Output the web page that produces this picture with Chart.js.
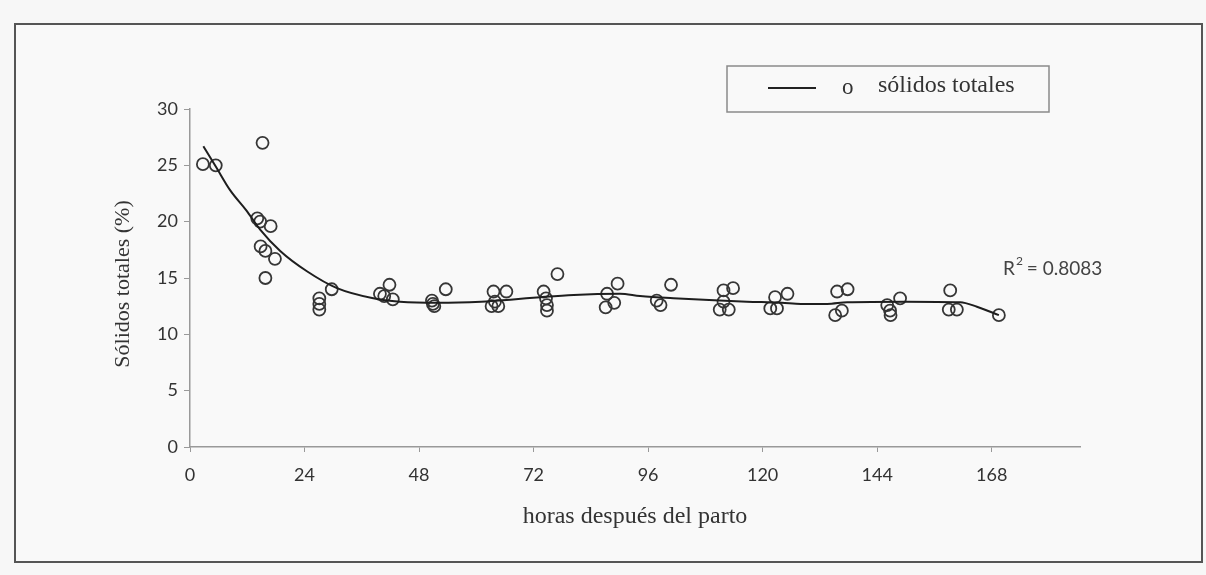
<!DOCTYPE html>
<html>
<head>
<meta charset="utf-8">
<script src="https://cdn.jsdelivr.net/npm/chart.js@4/dist/chart.umd.min.js"></script>
<style>
  html, body { margin: 0; padding: 0; background: #f7f7f7; }
  #wrap { width: 1206px; height: 575px; position: relative; }
</style>
</head>
<body>
<div id="wrap"><canvas id="c" width="1206" height="575"></canvas></div>
<script>
// Observed samples: hours after calving and total solids (%)
const hours = [2.7, 5.4, 15.2, 14.1, 14.7, 16.9, 14.8, 15.8, 17.8, 15.8,
  27.1, 27.1, 27.1, 29.7, 39.8, 40.7, 41.8, 42.5, 50.7, 50.9, 51.2, 53.6,
  63.6, 66.3, 63.9, 64.6, 63.2, 74.1, 74.6, 74.8, 74.8, 77.0,
  87.4, 89.6, 88.9, 87.1, 97.8, 98.6, 100.8,
  111.8, 113.8, 111.8, 111.0, 112.9, 122.6, 125.2, 121.6, 123.0,
  135.6, 137.8, 135.2, 136.6, 146.1, 146.7, 146.8, 148.8,
  159.3, 159.0, 160.7, 169.5];
const solids = [25.1, 25.0, 27.0, 20.3, 20.0, 19.6, 17.8, 17.4, 16.7, 15.0,
  13.2, 12.7, 12.2, 14.0, 13.6, 13.4, 14.4, 13.1, 13.0, 12.7, 12.5, 14.0,
  13.8, 13.8, 12.9, 12.5, 12.5, 13.8, 13.2, 12.6, 12.1, 15.35,
  13.6, 14.5, 12.8, 12.4, 13.0, 12.6, 14.4,
  13.9, 14.1, 12.9, 12.2, 12.2, 13.3, 13.6, 12.3, 12.3,
  13.8, 14.0, 11.7, 12.1, 12.6, 12.1, 11.7, 13.2,
  13.9, 12.2, 12.2, 11.7];

// Fitted trend curve
const curveHours = [2.8, 5.4, 8.4, 11.8, 14.7, 18.9, 24.5, 30.8, 38.4, 44, 52, 61,
  67.7, 73.4, 80.4, 90.1, 94.3, 101.3, 111, 116.7, 124, 128, 133.5, 137.7,
  150, 161.4, 164.9, 169.5];
const curveValues = [26.7, 24.9, 22.8, 21.0, 19.3, 17.4, 15.6, 14.1, 13.2, 12.9, 12.8, 12.9,
  13.1, 13.3, 13.5, 13.6, 13.4, 13.2, 13.0, 12.9, 12.8, 12.7, 12.7, 12.85,
  12.9, 12.85, 12.45, 11.7];

const xTicks = [0, 24, 48, 72, 96, 120, 144, 168];
const yTicks = [0, 5, 10, 15, 20, 25, 30];
const xTitle = 'horas después del parto';
const yTitle = 'Sólidos totales (%)';
const legendLabel = 'sólidos totales';
const r2Text = '0.8083';

const sansFont = "Lato, 'Open Sans', sans-serif";
const serifFont = "'Liberation Serif', 'DejaVu Serif', serif";

const decorations = {
  id: 'decorations',
  beforeDraw(chart) {
    const ctx = chart.ctx;
    ctx.save();
    ctx.fillStyle = '#f7f7f7';
    ctx.fillRect(0, 0, chart.width, chart.height);
    ctx.fillStyle = '#f9f9f9';
    ctx.fillRect(15, 24, 1187, 538);
    ctx.strokeStyle = '#555';
    ctx.lineWidth = 2;
    ctx.strokeRect(15, 24, 1187, 538);
    ctx.restore();
  },
  afterDraw(chart) {
    const ctx = chart.ctx;
    const area = chart.chartArea;
    ctx.save();
    // axis titles
    ctx.fillStyle = '#333';
    ctx.textAlign = 'center';
    ctx.textBaseline = 'middle';
    ctx.font = '24px ' + serifFont;
    ctx.fillText(xTitle, (area.left + area.right) / 2, 517);
    ctx.save();
    ctx.translate(123, (area.top + area.bottom) / 2 + 6);
    ctx.rotate(-Math.PI / 2);
    ctx.font = '22px ' + serifFont;
    ctx.fillText(yTitle, 0, 0);
    ctx.restore();
    ctx.textAlign = 'left';
    // legend box
    ctx.strokeStyle = '#8a8a8a';
    ctx.lineWidth = 1.5;
    ctx.strokeRect(727, 66, 322, 46);
    ctx.strokeStyle = '#222';
    ctx.lineWidth = 2;
    ctx.beginPath();
    ctx.moveTo(768, 88);
    ctx.lineTo(816, 88);
    ctx.stroke();
    ctx.fillStyle = '#333';
    ctx.font = '23px ' + serifFont;
    ctx.fillText('o', 842, 88);
    ctx.font = '24px ' + serifFont;
    ctx.fillText(legendLabel, 878, 86);
    // R² annotation
    ctx.font = '19px ' + sansFont;
    ctx.fillStyle = '#444';
    ctx.textBaseline = 'alphabetic';
    ctx.fillText('R', 1003, 275);
    const rw = ctx.measureText('R').width;
    ctx.font = '12px ' + sansFont;
    ctx.fillText('2', 1003 + rw + 1, 265);
    ctx.font = '19px ' + sansFont;
    ctx.fillText(' = ' + r2Text, 1003 + rw + 7, 275);
    ctx.restore();
  }
};

new Chart(document.getElementById('c'), {
  type: 'scatter',
  data: {
    datasets: [
      {
        type: 'line',
        label: 'tendencia',
        data: curveHours.map((h, i) => ({ x: h, y: curveValues[i] })),
        borderColor: '#1e1e1e',
        borderWidth: 2,
        pointRadius: 0,
        fill: false,
        cubicInterpolationMode: 'monotone'
      },
      {
        label: legendLabel,
        data: hours.map((h, i) => ({ x: h, y: solids[i] })),
        pointRadius: 6,
        pointHoverRadius: 6,
        borderWidth: 1.8,
        borderColor: '#363636',
        backgroundColor: 'rgba(0,0,0,0)'
      }
    ]
  },
  options: {
    responsive: false,
    animation: false,
    events: [],
    layout: { padding: { top: 109, right: 126, bottom: 0, left: 0 } },
    plugins: { legend: { display: false }, tooltip: { enabled: false } },
    scales: {
      x: {
        type: 'linear',
        min: 0,
        max: 186.5,
        afterFit(scale) { scale.height = 128; },
        afterBuildTicks(scale) { scale.ticks = xTicks.map(v => ({ value: v })); },
        border: { color: '#999', width: 1.5 },
        grid: { drawOnChartArea: false, drawTicks: true, tickLength: 5, color: '#999' },
        ticks: { color: '#333', font: { family: sansFont, size: 18 }, padding: 12, maxRotation: 0 }
      },
      y: {
        min: 0,
        max: 30,
        afterFit(scale) { scale.width = 190; },
        afterBuildTicks(scale) { scale.ticks = yTicks.map(v => ({ value: v })); },
        border: { color: '#999', width: 1.5 },
        grid: { drawOnChartArea: false, drawTicks: true, tickLength: 6, color: '#999' },
        ticks: { color: '#333', font: { family: sansFont, size: 18 }, padding: 6 }
      }
    }
  },
  plugins: [decorations]
});
</script>
</body>
</html>
